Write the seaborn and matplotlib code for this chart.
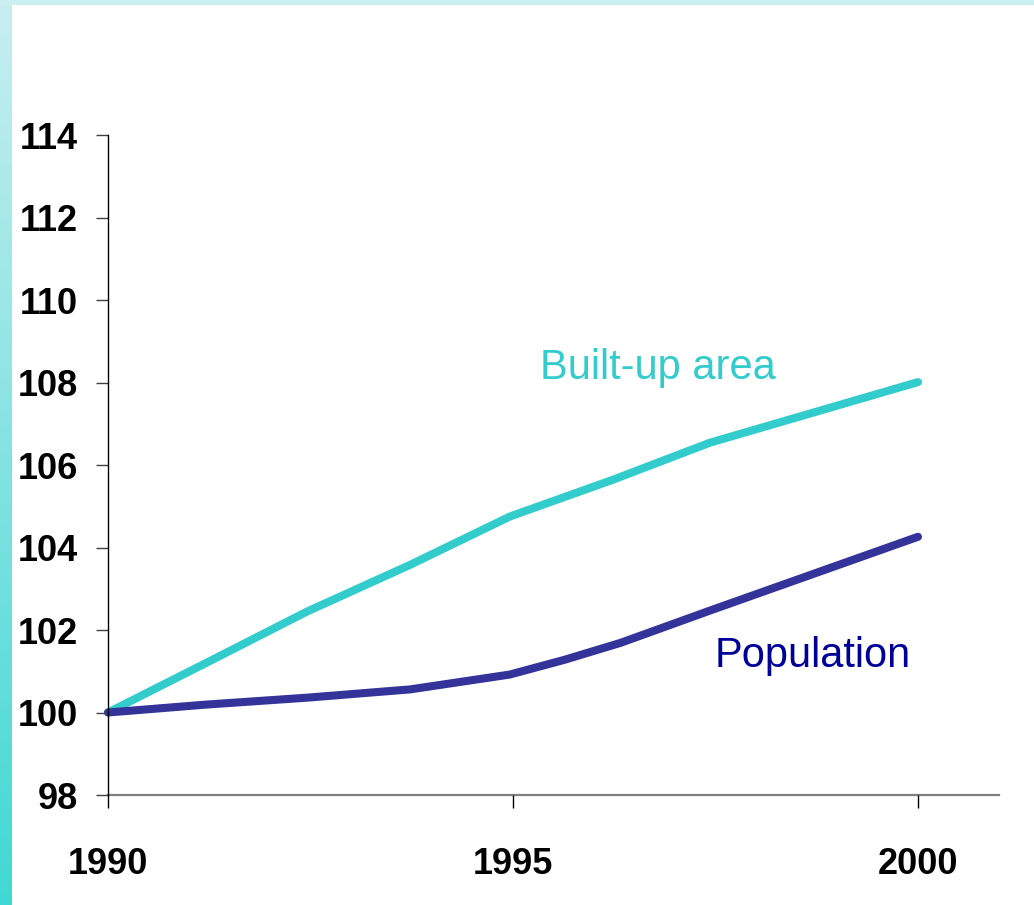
import numpy as np
import pandas as pd
import matplotlib.pyplot as plt
import seaborn as sns
from matplotlib.colors import LinearSegmentedColormap

# index values (1990 = 100)
built_years = [1990, 1991.2, 1992.46, 1993.73, 1994.96, 1996.23, 1997.43, 2000]
built_area = [100, 101.19, 102.45, 103.58, 104.75, 105.64, 106.54, 108.01]

pop_years = [1990, 1991.2, 1992.46, 1993.73, 1994.96, 1995.64, 1996.33, 1997.43, 2000]
population = [100, 100.19, 100.36, 100.56, 100.92, 101.28, 101.69, 102.47, 104.26]

x_ticks = [1990, 1995, 2000]
y_ticks = [98, 100, 102, 104, 106, 108, 110, 112, 114]

df = pd.concat([
    pd.DataFrame({'year': built_years, 'index': built_area, 'series': 'Built-up area'}),
    pd.DataFrame({'year': pop_years, 'index': population, 'series': 'Population'}),
])

sns.set_style('white')
plt.rcParams['font.family'] = ['Liberation Sans', 'DejaVu Sans']
plt.rcParams['text.color'] = 'black'
plt.rcParams['xtick.color'] = 'black'
plt.rcParams['ytick.color'] = 'black'

fig = plt.figure(figsize=(10.34, 9.05), dpi=100)

# slide frame: gradient strip on the left, pale band on top
strip = fig.add_axes([0, 0, 12 / 1034, 1])
grad = np.linspace(0, 1, 256).reshape(-1, 1)
cmap = LinearSegmentedColormap.from_list('frame', ['#c8eef0', '#40d8d4'])
strip.imshow(grad, aspect='auto', cmap=cmap, origin='upper')
strip.axis('off')
top = fig.add_axes([0, 1 - 5 / 905, 1, 5 / 905])
top.set_facecolor('#cbeef0')
top.set_xticks([])
top.set_yticks([])
for s in top.spines.values():
    s.set_visible(False)

ax = fig.add_axes([108 / 1034, 110 / 905, 891 / 1034, 660 / 905])
palette = {'Built-up area': '#33cccc', 'Population': '#333399'}
sns.lineplot(data=df, x='year', y='index', hue='series', palette=palette,
             linewidth=5.8, legend=False, ax=ax, sort=False, estimator=None)
for line in ax.lines:
    line.set_solid_capstyle('round')
    line.set_solid_joinstyle('round')
    line.set_clip_on(False)

ax.set_xlim(1990, 2001)
ax.set_ylim(98, 114)
ax.set_xticks(x_ticks)
ax.set_yticks(y_ticks)
ax.set_xlabel('')
ax.set_ylabel('')

tick_font = {'family': ['Liberation Sans'], 'weight': 'bold', 'size': 26}
ax.set_xticklabels([str(t) for t in x_ticks], fontdict=tick_font)
ax.set_yticklabels([str(t) for t in y_ticks], fontdict=tick_font)
ax.tick_params(axis='y', direction='out', length=8.6, width=1, color='#404040', pad=13, left=True)
ax.tick_params(axis='x', direction='out', length=9.5, width=1, color='black', pad=28, bottom=True)

ax.spines['top'].set_visible(False)
ax.spines['right'].set_visible(False)
ax.spines['left'].set_color('black')
ax.spines['left'].set_linewidth(1)
ax.spines['bottom'].set_color('#808080')
ax.spines['bottom'].set_linewidth(1.6)
ax.spines['bottom'].set_zorder(0)

ax.text(1995.33, 108.36, 'Built-up area', color='#33cccc', fontsize=30, va='center', ha='left')
ax.text(1997.49, 101.38, 'Population', color='#000099', fontsize=30, va='center', ha='left')

fig.savefig('out.png', dpi=100)
